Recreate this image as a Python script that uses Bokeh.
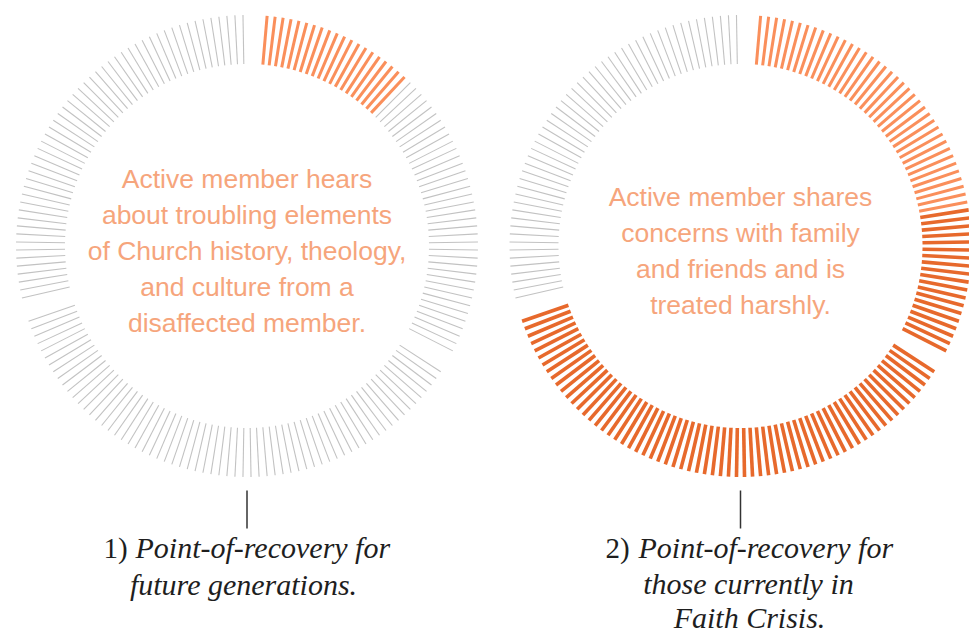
import math
from bokeh.plotting import figure
from bokeh.models import Range1d
from bokeh.core.properties import value
from bokeh.embed import file_html
from bokeh.resources import INLINE

# ---- data ----
tick_step = 2                          # degrees between ticks
sections = [(5, 117), (123, 251), (257, 359)]   # clockwise from top, degrees
left_orange = (5, 43)
right_light = (5, 79)
right_dark = (81, 251)

left_text = ["Active member hears", "about troubling elements",
             "of Church history, theology,", "and culture from a",
             "disaffected member."]
right_text = ["Active member shares", "concerns with family",
              "and friends and is", "treated harshly."]
left_caption_num = "1)"
left_caption = ["Point-of-recovery for", "future generations."]
right_caption_num = "2)"
right_caption = ["Point-of-recovery for", "those currently in", "Faith Crisis."]

# ---- layout ----
W, H = 969, 636
p = figure(width=W, height=H, output_backend="svg", toolbar_location=None,
           x_range=Range1d(0, W), y_range=Range1d(H, 0),
           min_border=0)
p.axis.visible = False
p.grid.visible = False
p.outline_line_color = None
p.background_fill_color = "white"
p.border_fill_color = "white"

R_OUT, R_IN = 231, 182
CY = 245.5
centers = [246.5, 740]

all_angles = []
for a0, a1 in sections:
    all_angles += list(range(a0, a1 + 1, tick_step))


def segs(cx, angles):
    x0, y0, x1, y1 = [], [], [], []
    for a in angles:
        t = math.radians(a)
        s, c = math.sin(t), math.cos(t)
        x0.append(cx + R_IN * s); y0.append(CY - R_IN * c)
        x1.append(cx + R_OUT * s); y1.append(CY - R_OUT * c)
    return dict(x0=x0, y0=y0, x1=x1, y1=y1)


GRAY = "#c2c2c2"
LIGHT = "#fa8f5b"
DARK = "#e7692c"

# left ring
lc = centers[0]
gray_l = [a for a in all_angles if not (left_orange[0] <= a <= left_orange[1])]
or_l = [a for a in all_angles if left_orange[0] <= a <= left_orange[1]]
p.segment(line_color=GRAY, line_width=1.1, line_cap="butt", **segs(lc, gray_l))
p.segment(line_color=LIGHT, line_width=3, line_cap="butt", **segs(lc, or_l))

# right ring
rc = centers[1]
light_r = [a for a in all_angles if right_light[0] <= a <= right_light[1]]
dark_r = [a for a in all_angles if right_dark[0] <= a <= right_dark[1]]
gray_r = [a for a in all_angles if a not in light_r and a not in dark_r]
p.segment(line_color=GRAY, line_width=1.1, line_cap="butt", **segs(rc, gray_r))
p.segment(line_color=LIGHT, line_width=3, line_cap="butt", **segs(rc, light_r))
p.segment(line_color=DARK, line_width=3.6, line_cap="butt", **segs(rc, dark_r))

# centre texts
TXT = "#f6a57c"
SANS = value("Liberation Sans")
ly = [178, 214, 250, 286, 322]
p.text(x=[lc] * len(left_text), y=ly, text=left_text, text_align="center",
       text_baseline="middle", text_font=SANS, text_font_size="26.5px",
       text_color=TXT)
ry = [196, 232, 268, 304]
p.text(x=[rc] * len(right_text), y=ry, text=right_text, text_align="center",
       text_baseline="middle", text_font=SANS, text_font_size="26.5px",
       text_color=TXT)

# connector lines
p.segment(x0=centers, y0=[490, 490], x1=centers, y1=[528, 528],
          line_color="#333333", line_width=1.5)

# captions (vertical centres of each line)
CAP = "#1e1e1e"
SERIF = value("Liberation Serif")
p.text(x=[103, 605], y=[547, 547], text=[left_caption_num, right_caption_num],
       text_align="left", text_baseline="middle", text_font=SERIF,
       text_font_size="29px", text_color=CAP)
p.text(x=[135, 638], y=[547, 547], text=[left_caption[0], right_caption[0]],
       text_align="left", text_baseline="middle", text_font=SERIF,
       text_font_style="italic", text_font_size="30px", text_color=CAP)
p.text(x=[243, 748, 749], y=[584, 583, 617],
       text=[left_caption[1], right_caption[1], right_caption[2]],
       text_align="center", text_baseline="middle", text_font=SERIF,
       text_font_style="italic", text_font_size="30px", text_color=CAP)

open("out.html", "w").write(file_html(p, INLINE))
